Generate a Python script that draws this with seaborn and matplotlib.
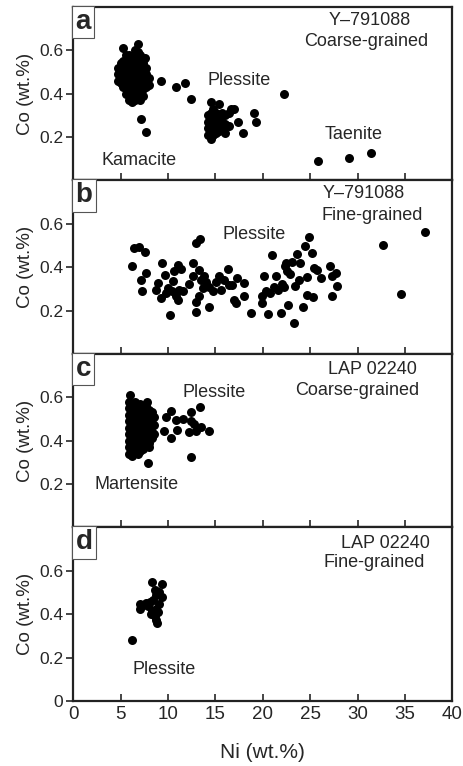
import matplotlib
matplotlib.use("Agg")
import matplotlib.pyplot as plt
import pandas as pd
import seaborn as sns

# panel a: Y-791088 coarse-grained
a_ni = [4.7, 4.7, 4.7, 5.0, 5.0, 5.0, 5.0, 5.3, 5.3, 5.3, 5.3, 5.3, 5.3,
        5.6, 5.6, 5.6, 5.6, 5.6, 5.6, 5.6, 5.9, 5.9, 5.9, 5.9, 5.9, 5.9, 5.9, 5.9,
        6.2, 6.2, 6.2, 6.2, 6.2, 6.2, 6.2, 6.2, 6.5, 6.5, 6.5, 6.5, 6.5, 6.5, 6.5, 6.5, 6.5,
        6.8, 6.8, 6.8, 6.8, 6.8, 6.8, 6.8, 6.8, 6.85, 7.1, 7.1, 7.1, 7.1, 7.1, 7.1, 7.1, 7.1,
        7.4, 7.4, 7.4, 7.4, 7.4, 7.4, 7.55, 7.7, 7.7, 7.7, 7.7, 8.0, 8.0,
        7.13, 7.66, 9.23, 10.87, 11.75, 12.45,
        14.2, 14.2, 14.2, 14.2, 14.5, 14.5, 14.5, 14.5, 14.5, 14.5,
        14.8, 14.8, 14.8, 14.8, 14.8, 15.1, 15.1, 15.1, 15.1, 15.4, 15.4, 15.4, 15.4,
        15.7, 15.7, 15.7, 16.0, 16.0, 16.0, 16.4, 16.4, 16.6, 17.0, 17.4, 17.9,
        19.1, 19.3, 22.2, 25.8, 29.06, 31.4]
a_co = [0.46, 0.49, 0.52, 0.45, 0.48, 0.51, 0.54, 0.43, 0.46, 0.49, 0.52, 0.55, 0.61,
        0.40, 0.43, 0.46, 0.49, 0.52, 0.55, 0.58, 0.37, 0.40, 0.43, 0.46, 0.49, 0.52, 0.55, 0.58,
        0.36, 0.39, 0.42, 0.45, 0.48, 0.51, 0.54, 0.57, 0.37, 0.40, 0.43, 0.46, 0.49, 0.52, 0.55, 0.58, 0.60,
        0.38, 0.41, 0.44, 0.47, 0.50, 0.53, 0.56, 0.59, 0.63, 0.37, 0.40, 0.43, 0.46, 0.49, 0.52, 0.55, 0.58,
        0.39, 0.42, 0.45, 0.48, 0.51, 0.54, 0.565, 0.43, 0.46, 0.49, 0.52, 0.44, 0.47,
        0.284, 0.225, 0.46, 0.43, 0.45, 0.376,
        0.21, 0.24, 0.27, 0.30, 0.19, 0.22, 0.25, 0.28, 0.31, 0.36,
        0.21, 0.24, 0.27, 0.30, 0.33, 0.22, 0.25, 0.28, 0.31, 0.23, 0.26, 0.29, 0.35,
        0.24, 0.27, 0.31, 0.22, 0.26, 0.30, 0.25, 0.31, 0.33, 0.33, 0.27, 0.22,
        0.31, 0.27, 0.40, 0.09, 0.105, 0.125]

# panel b: Y-791088 fine-grained
b_ni = [6.26, 6.4, 6.96, 7.55, 7.2, 7.3, 7.66, 8.95, 8.78, 9.41, 9.3, 9.65, 10.17, 10.0,
        10.5, 10.6, 11.05, 11.4, 10.87, 11.2, 11.57, 11.05, 12.6, 12.6, 12.97, 13.4, 13.3,
        13.5, 12.97, 12.97, 13.3, 13.67, 13.85, 14.37, 14.37, 14.7, 15.07, 15.4, 15.6, 16.3,
        16.45, 16.8, 17.3, 17.2, 16.96, 18.04, 18.04, 18.8, 19.97, 20.1, 19.97, 20.3, 21.0,
        21.4, 21.6, 20.6, 21.2, 21.9, 22.0, 22.2, 22.3, 22.6, 22.7, 22.5, 23.1, 23.3, 23.4,
        23.6, 23.8, 24.2, 24.5, 24.9, 24.7, 24.7, 25.2, 25.3, 25.4, 25.7, 26.1, 27.1, 27.3,
        27.7, 27.3, 27.8, 32.7, 34.6, 37.1,
        9.8, 10.4, 12.2, 14.0, 15.9, 20.8, 22.9, 23.9]
b_co = [0.403, 0.488, 0.495, 0.468, 0.34, 0.288, 0.372, 0.326, 0.295, 0.42, 0.257, 0.365,
        0.18, 0.303, 0.334, 0.38, 0.41, 0.39, 0.268, 0.295, 0.288, 0.25, 0.418, 0.357, 0.51,
        0.53, 0.388, 0.34, 0.24, 0.195, 0.265, 0.303, 0.357, 0.218, 0.31, 0.288, 0.33, 0.357,
        0.295, 0.39, 0.318, 0.318, 0.35, 0.234, 0.25, 0.326, 0.268, 0.188, 0.268, 0.357,
        0.234, 0.288, 0.457, 0.357, 0.295, 0.185, 0.31, 0.19, 0.323, 0.31, 0.406, 0.38,
        0.226, 0.418, 0.426, 0.142, 0.314, 0.46, 0.34, 0.218, 0.498, 0.54, 0.354, 0.272,
        0.465, 0.262, 0.395, 0.387, 0.35, 0.403, 0.357, 0.372, 0.265, 0.314, 0.503, 0.275, 0.56,
        0.28, 0.29, 0.32, 0.33, 0.34, 0.28, 0.37, 0.42]

# panel c: LAP 02240 coarse-grained
c_ni = [5.9, 5.9, 5.9, 5.9, 5.9, 5.9, 5.9, 5.9, 5.9, 6.0,
        6.2, 6.2, 6.2, 6.2, 6.2, 6.2, 6.2, 6.2, 6.2,
        6.5, 6.5, 6.5, 6.5, 6.5, 6.5, 6.5, 6.5, 6.5,
        6.8, 6.8, 6.8, 6.8, 6.8, 6.8, 6.8, 6.8, 6.8,
        7.1, 7.1, 7.1, 7.1, 7.1, 7.1, 7.1, 7.1, 7.1,
        7.4, 7.4, 7.4, 7.4, 7.4, 7.4, 7.4, 7.4,
        7.7, 7.7, 7.7, 7.7, 7.7, 7.7, 7.7, 7.8,
        8.0, 8.0, 8.0, 8.0, 8.0, 8.0, 8.0,
        8.3, 8.3, 8.3, 8.3, 8.3, 8.5, 8.5, 8.5, 7.9,
        9.8, 10.3, 9.6, 10.3, 11.0, 10.9, 11.6, 12.4, 13.4, 12.4, 12.25, 13.0, 13.5,
        14.3, 12.4, 12.7]
c_co = [0.34, 0.37, 0.40, 0.43, 0.46, 0.49, 0.52, 0.55, 0.58, 0.61,
        0.33, 0.36, 0.39, 0.42, 0.45, 0.48, 0.51, 0.54, 0.57,
        0.35, 0.38, 0.41, 0.44, 0.47, 0.50, 0.53, 0.56, 0.58,
        0.36, 0.39, 0.42, 0.45, 0.48, 0.51, 0.54, 0.56, 0.34,
        0.35, 0.38, 0.41, 0.44, 0.47, 0.50, 0.53, 0.55, 0.57,
        0.37, 0.40, 0.43, 0.46, 0.49, 0.52, 0.55, 0.36,
        0.38, 0.41, 0.44, 0.47, 0.50, 0.53, 0.56, 0.58,
        0.39, 0.42, 0.45, 0.48, 0.51, 0.54, 0.37,
        0.41, 0.44, 0.47, 0.50, 0.53, 0.43, 0.47, 0.51, 0.296,
        0.507, 0.538, 0.446, 0.41, 0.45, 0.495, 0.50, 0.533, 0.553, 0.49, 0.441, 0.446, 0.461,
        0.446, 0.326, 0.476]

# panel d: LAP 02240 fine-grained
d_ni = [8.34, 9.35, 7.0, 7.0, 6.18, 7.9, 8.4, 8.76, 9.1, 9.4, 9.1, 8.76, 8.5, 8.76,
        8.83, 8.3, 7.9, 8.9, 8.6, 7.4, 7.7, 8.1, 8.2, 8.6]
d_co = [0.546, 0.538, 0.449, 0.423, 0.28, 0.44, 0.464, 0.487, 0.502, 0.48, 0.449, 0.426,
        0.395, 0.372, 0.357, 0.415, 0.436, 0.41, 0.51, 0.44, 0.45, 0.455, 0.40, 0.39]

panel_letters = ["a", "b", "c", "d"]
sample_names = ["Y\u2013791088", "Y\u2013791088", "LAP 02240", "LAP 02240"]
textures = ["Coarse-grained", "Fine-grained", "Coarse-grained", "Fine-grained"]
phase_labels = [
    [("Kamacite", 6.96, 0.09), ("Plessite", 17.5, 0.46), ("Taenite", 29.6, 0.21)],
    [("Plessite", 19.1, 0.55)],
    [("Plessite", 14.9, 0.62), ("Martensite", 6.7, 0.20)],
    [("Plessite", 9.55, 0.147)],
]
name_pos = [(31.3, 0.735), (30.7, 0.74), (31.6, 0.728), (32.9, 0.728)]
texture_pos = [(30.9, 0.64), (31.5, 0.637), (30.0, 0.63), (31.8, 0.636)]

frames = [
    pd.DataFrame({"Ni": a_ni, "Co": a_co}),
    pd.DataFrame({"Ni": b_ni, "Co": b_co}),
    pd.DataFrame({"Ni": c_ni, "Co": c_co}),
    pd.DataFrame({"Ni": d_ni, "Co": d_co}),
]

sns.set_style("ticks")
plt.rcParams["font.family"] = ["Liberation Sans", "DejaVu Sans"]

fig, axes = plt.subplots(4, 1, sharex=True, figsize=(4.63, 7.66), dpi=100)
fig.subplots_adjust(left=0.158, right=0.977, top=0.991, bottom=0.085, hspace=0)

for i, ax in enumerate(axes):
    sns.scatterplot(x="Ni", y="Co", data=frames[i], ax=ax, color="black",
                    s=42, linewidth=0, legend=False)
    ax.set_xlim(0, 40)
    ax.set_ylim(0, 0.8)
    if i == 3:
        ax.set_yticks([0, 0.2, 0.4, 0.6])
        ax.set_yticklabels(["0", "0.2", "0.4", "0.6"])
    else:
        ax.set_yticks([0.2, 0.4, 0.6])
        ax.set_yticklabels(["0.2", "0.4", "0.6"])
    ax.set_xticks(range(0, 41, 5))
    ax.tick_params(axis="x", direction="in", length=5, width=1.2, labelsize=13.5, pad=4)
    ax.tick_params(axis="y", direction="out", length=5, width=1.2, labelsize=12.5, pad=2)
    for sp in ax.spines.values():
        sp.set_linewidth(1.6)
        sp.set_color("#222222")
    ax.set_ylabel("Co (wt.%)", fontsize=13.5, labelpad=4)
    ax.set_xlabel("")
    ax.text(0.006, 0.988, panel_letters[i], transform=ax.transAxes, ha="left", va="top",
            fontsize=20, fontweight="bold",
            bbox=dict(boxstyle="square,pad=0.12", fc="white", ec="#555555", lw=0.8))
    ax.text(name_pos[i][0], name_pos[i][1], sample_names[i], ha="center", va="center", fontsize=13)
    ax.text(texture_pos[i][0], texture_pos[i][1], textures[i], ha="center", va="center", fontsize=13)
    for label, x, y in phase_labels[i]:
        ax.text(x, y, label, ha="center", va="center", fontsize=13)

axes[3].set_xlabel("Ni (wt.%)", fontsize=15, labelpad=14)

plt.savefig("out.png", dpi=100)
